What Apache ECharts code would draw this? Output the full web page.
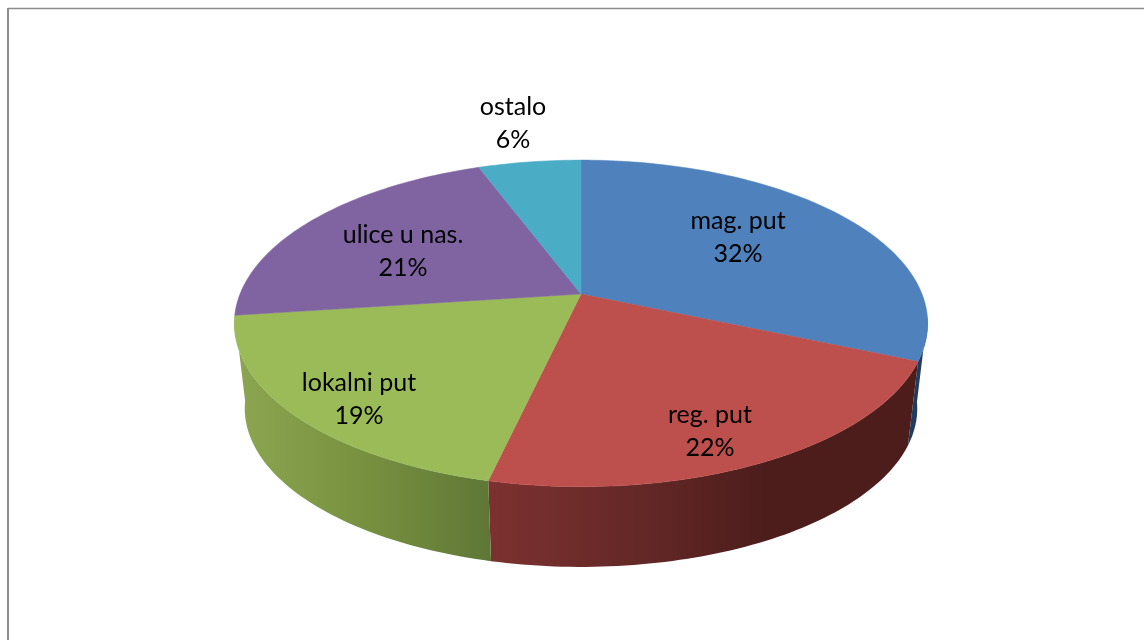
<!DOCTYPE html>
<html>
<head>
<meta charset="utf-8">
<style>html,body{margin:0;padding:0;background:#fff}#c{width:1144px;height:640px}</style>
<script src="https://cdn.jsdelivr.net/npm/echarts@6/dist/echarts.min.js"></script>
</head>
<body>
<div id="c"></div>
<script>
// Data
const categories = ['mag. put', 'reg. put', 'lokalni put', 'ulice u nas.', 'ostalo'];
const shares = [31.5, 22.1, 19.3, 21.4, 5.7];

// Styles and layout
const topColors = ['#4F81BC', '#BD4F4C', '#9BBB59', '#8063A1', '#4BACC6'];
const sideStops = [
  [[0, '#1F3D5E'], [1, '#1F3D5E']],
  [[0, '#7C3130'], [0.35, '#642827'], [0.65, '#4C1D1B'], [1, '#4C1D1B']],
  [[0, '#8DA651'], [0.5, '#789140'], [1, '#5F7736']],
  [[0, '#4C3B60'], [1, '#4C3B60']],
  [[0, '#2D6676'], [1, '#2D6676']]
];
const labelPixel = [[738, 237], [710, 431], [359, 399], [403, 251], [513, 123]];
const CX = 581, CY = 294, RX = 341, RY = 158, K = 0.18;
const SCALE_LOW = 0.97, DROP = 86 / RY;
const WALL_FROM = 98 * Math.PI / 180, WALL_TO = 262.5 * Math.PI / 180;

const total = shares.reduce((a, b) => a + b, 0);
const starts = [];
shares.reduce((acc, v, i) => { starts[i] = acc; return acc + v; }, 0);
const ang = p => p / total * 2 * Math.PI;

function rim(t, low) {
  const u = Math.sin(t), v = -Math.cos(t), w = 1 - K * v;
  const X = u / w, Y = v / w;
  return low ? [X * SCALE_LOW, DROP + Y * SCALE_LOW] : [X, Y];
}
function arc(a0, a1, low) {
  const n = Math.max(2, Math.ceil((a1 - a0) / 0.02)), pts = [];
  for (let i = 0; i <= n; i++) pts.push(rim(a0 + (a1 - a0) * i / n, low));
  return pts;
}

const rows = shares.map((v, i) => [i, v]);

const option = {
  animation: false,
  backgroundColor: '#fff',
  grid: { left: 0, right: 0, top: 0, bottom: 0 },
  xAxis: { type: 'value', show: false, min: -CX / RX, max: (1144 - CX) / RX },
  yAxis: { type: 'value', show: false, inverse: true, min: -CY / RY, max: (640 - CY) / RY },
  graphic: [
    { type: 'line', silent: true, shape: { x1: 8, y1: 8.5, x2: 1144, y2: 8.5 }, style: { stroke: '#8C8C8C', lineWidth: 1.5 } },
    { type: 'line', silent: true, shape: { x1: 8, y1: 8, x2: 8, y2: 640 }, style: { stroke: '#8C8C8C', lineWidth: 2 } }
  ],
  series: [
    {
      type: 'custom', coordinateSystem: 'cartesian2d', z: 2, silent: true, clip: false,
      data: rows,
      renderItem(params, api) {
        const i = api.value(0);
        const a0 = Math.max(ang(starts[i]), WALL_FROM);
        const a1 = Math.min(ang(starts[i] + api.value(1)), WALL_TO);
        if (a1 <= a0) return null;
        const pts = arc(a0, a1, false).concat(arc(a0, a1, true).reverse()).map(p => api.coord(p));
        return {
          type: 'polygon', shape: { points: pts },
          style: { fill: new echarts.graphic.LinearGradient(0, 0, 1, 0, sideStops[i].map(s => ({ offset: s[0], color: s[1] }))) }
        };
      }
    },
    {
      type: 'custom', coordinateSystem: 'cartesian2d', z: 3, silent: true, clip: false,
      data: rows,
      renderItem(params, api) {
        const i = api.value(0);
        const a0 = ang(starts[i]), a1 = ang(starts[i] + api.value(1));
        const pts = [[0, 0]].concat(arc(a0, a1, false)).map(p => api.coord(p));
        return {
          type: 'polygon', shape: { points: pts },
          style: { fill: topColors[i], stroke: topColors[i], lineWidth: 0.5 }
        };
      }
    },
    {
      type: 'custom', coordinateSystem: 'cartesian2d', z: 4, silent: true, clip: false,
      data: rows,
      renderItem(params, api) {
        const i = api.value(0);
        return {
          type: 'text',
          x: labelPixel[i][0], y: labelPixel[i][1],
          style: {
            text: categories[i] + '\n' + Math.round(api.value(1)) + '%',
            fill: '#000', font: '25px Lato, "Open Sans", sans-serif',
            align: 'center', verticalAlign: 'middle', lineHeight: 33
          }
        };
      }
    }
  ]
};
const chart = echarts.init(document.getElementById('c'), null, { renderer: 'canvas' });
chart.setOption(option);
</script>
</body>
</html>
